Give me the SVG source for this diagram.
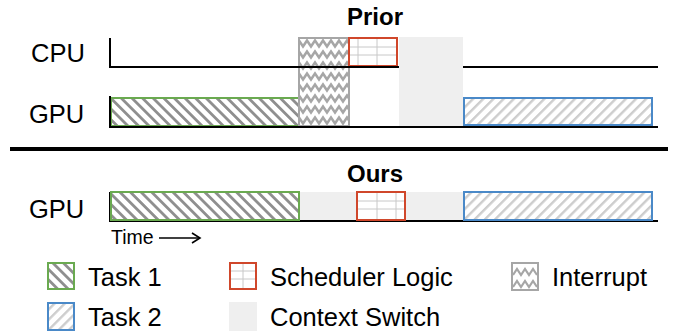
<svg xmlns="http://www.w3.org/2000/svg" width="683" height="332" viewBox="0 0 683 332">
  <style>
    text { font-family: "Liberation Sans", Arial, sans-serif; fill: #000; }
    .lbl { font-size: 25.5px; }
    .title { font-size: 24px; font-weight: bold; text-anchor: middle; }
    .axis { stroke: #000; stroke-width: 2; fill: none; }
    .t1 { fill: url(#pt1); stroke: #6aaa50; stroke-width: 2; }
    .t2 { fill: url(#pt2); stroke: #4a89c8; stroke-width: 2; }
    .intr { fill: url(#pint); stroke: #a6a6a6; stroke-width: 2; }
    .sched { fill: #fff; stroke: #d0472b; stroke-width: 2; }
    .grid { stroke: #c8c8c8; stroke-width: 1; }
    .ctx { fill: #efefef; }
  </style>
  <defs>
    <pattern id="pt1" patternUnits="userSpaceOnUse" width="7.5" height="7.5" patternTransform="rotate(-45)">
      <rect width="7.5" height="7.5" fill="#fff"/>
      <rect x="0" y="0" width="2.8" height="7.5" fill="#8f8f8f"/>
    </pattern>
    <pattern id="pt2" patternUnits="userSpaceOnUse" width="7.2" height="7.2" patternTransform="rotate(45)">
      <rect width="7.2" height="7.2" fill="#fff"/>
      <rect x="0" y="0" width="2.4" height="7.2" fill="#cdcdcd"/>
    </pattern>
    <pattern id="pint" patternUnits="userSpaceOnUse" width="16" height="11" x="299" y="38">
      <rect width="16" height="11" fill="#fff"/>
      <path d="M-4,8.5 L0,2.5 L4,8.5 L8,2.5 L12,8.5 L16,2.5 L20,8.5" fill="none" stroke="#a6a6a6" stroke-width="2.6"/>
    </pattern>
    <g id="schedgrid">
      <line class="grid" x1="0" y1="9" x2="48" y2="9"/>
      <line class="grid" x1="0" y1="17" x2="48" y2="17"/>
    </g>
    <marker id="arr" markerWidth="12" markerHeight="12" refX="10" refY="6" orient="auto" markerUnits="userSpaceOnUse">
      <path d="M2,1 L10,6 L2,11" fill="none" stroke="#000" stroke-width="1.6"/>
    </marker>
  </defs>

  <!-- Prior -->
  <text class="title" x="375" y="25">Prior</text>
  <text class="lbl" x="31" y="62">CPU</text>
  <text class="lbl" x="29" y="123">GPU</text>

  <g id="prior-context-switch">
    <rect class="ctx" x="399" y="37" width="64" height="90"/>
  </g>
  <g id="prior-task1">
    <rect class="t1" x="111" y="98" width="188" height="28"/>
  </g>
  <g id="prior-interrupt">
    <rect class="intr" x="299" y="38" width="50" height="88"/>
  </g>
  <g id="prior-scheduler">
    <rect class="sched" x="349" y="38" width="48" height="28"/>
    <g transform="translate(349,38)">
      <use href="#schedgrid"/>
      <line class="grid" x1="9" y1="0" x2="9" y2="28"/>
      <line class="grid" x1="28" y1="0" x2="28" y2="28"/>
    </g>
    <rect x="349" y="38" width="48" height="28" fill="none" stroke="#d0472b" stroke-width="2"/>
  </g>
  <g id="prior-task2">
    <rect class="t2" x="464" y="98" width="188" height="27"/>
  </g>

  <g id="axes">
    <path class="axis" d="M110,38 V67 H399 M463,67 H658"/>
    <path class="axis" d="M110,96 V127 H658"/>
    <path class="axis" d="M110,192 V221 H658"/>
  </g>

  <line x1="10" y1="149" x2="668" y2="149" stroke="#000" stroke-width="4"/>

  <!-- Ours -->
  <text class="title" x="375" y="182">Ours</text>
  <text class="lbl" x="29" y="218">GPU</text>

  <g id="ours-context-switch">
    <rect class="ctx" x="299" y="192" width="165" height="28"/>
  </g>
  <g id="ours-task1">
    <rect class="t1" x="111" y="192" width="188" height="28"/>
  </g>
  <g id="ours-scheduler">
    <rect class="sched" x="357" y="192" width="48" height="28"/>
    <g transform="translate(357,192)">
      <use href="#schedgrid"/>
      <line class="grid" x1="20" y1="0" x2="20" y2="28"/>
      <line class="grid" x1="39" y1="0" x2="39" y2="28"/>
    </g>
    <rect x="357" y="192" width="48" height="28" fill="none" stroke="#d0472b" stroke-width="2"/>
  </g>
  <g id="ours-task2">
    <rect class="t2" x="464" y="192" width="188" height="28"/>
  </g>

  <g id="connectors">
    <line x1="159" y1="238" x2="200" y2="238" stroke="#000" stroke-width="1.6" marker-end="url(#arr)"/>
  </g>
  <text x="111" y="244" style="font-size:19.5px">Time</text>

  <!-- Legend -->
  <g id="legend-task1">
    <rect class="t1" x="48" y="263" width="26" height="26"/>
    <text class="lbl" x="88" y="286">Task 1</text>
  </g>
  <g id="legend-task2">
    <rect class="t2" x="48" y="303" width="26" height="27"/>
    <text class="lbl" x="88" y="326">Task 2</text>
  </g>
  <g id="legend-scheduler">
    <rect class="sched" x="230" y="263" width="26" height="26"/>
    <line class="grid" x1="243" y1="263" x2="243" y2="289"/>
    <line class="grid" x1="230" y1="271" x2="256" y2="271"/>
    <line class="grid" x1="230" y1="279" x2="256" y2="279"/>
    <rect x="230" y="263" width="26" height="26" fill="none" stroke="#d0472b" stroke-width="2"/>
    <text class="lbl" x="270" y="286">Scheduler Logic</text>
  </g>
  <g id="legend-context">
    <rect class="ctx" x="229" y="302" width="28" height="29"/>
    <text class="lbl" x="270" y="326">Context Switch</text>
  </g>
  <g id="legend-interrupt">
    <rect x="512" y="263" width="26" height="27" fill="#fff" stroke="#a6a6a6" stroke-width="2"/>
    <path d="M513,275 L517,269 L521,275 L525,269 L529,275 L533,269 L537,275 M513,287 L517,281 L521,287 L525,281 L529,287 L533,281 L537,287" fill="none" stroke="#a6a6a6" stroke-width="2.2"/>
    <text class="lbl" x="552" y="286">Interrupt</text>
  </g>
</svg>
